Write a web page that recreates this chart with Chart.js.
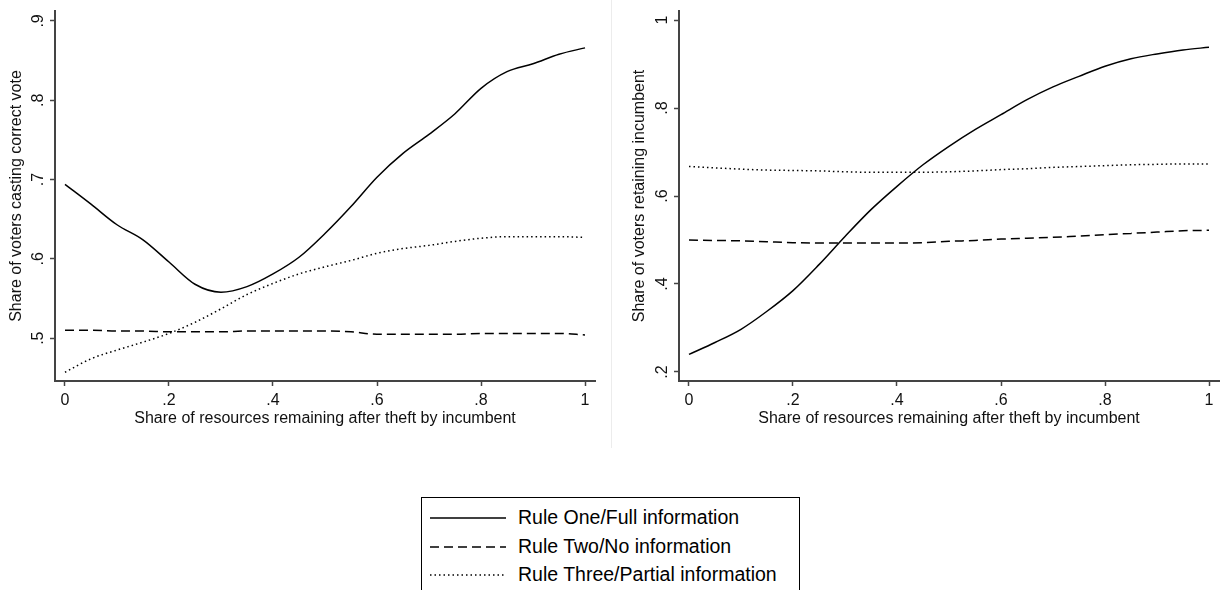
<!DOCTYPE html>
<html>
<head>
<meta charset="utf-8">
<script src="https://cdn.jsdelivr.net/npm/chart.js@4"></script>
<style>
  body { margin:0; background:#fff; width:1225px; height:590px; overflow:hidden; position:relative; font-family:"Liberation Sans", Arial, sans-serif; }
  #left { position:absolute; left:0; top:0; }
  #right { position:absolute; left:612px; top:0; }
  .sep { position:absolute; left:611px; top:0; width:1px; height:448px; background:#ececec; }
  .legend { position:absolute; left:421px; top:497px; width:377px; height:110px; border:1px solid #000; }
  .row { position:absolute; left:0; height:28px; font-size:19.5px; color:#000; }
  .row svg { position:absolute; left:8px; top:0; }
  .row span { position:absolute; left:96px; top:2px; white-space:nowrap; }
</style>
</head>
<body>
<canvas id="left" width="612" height="440"></canvas>
<div class="sep"></div>
<canvas id="right" width="613" height="440"></canvas>
<div class="legend" id="legend"></div>

<script>
// x grid of the fitted curves
var xs = [0, .05, .1, .15, .2, .25, .3, .35, .4, .45, .5, .55, .6, .65, .7, .75, .8, .85, .9, .95, 1];

// left panel: share of voters casting correct vote
var correctOne   = [.694, .669, .643, .624, .596, .568, .558, .565, .581, .602, .632, .666, .703, .733, .757, .783, .815, .836, .846, .858, .866];
var correctTwo   = [.510, .510, .509, .509, .508, .508, .508, .509, .509, .509, .509, .508, .505, .505, .505, .505, .506, .506, .506, .506, .504];
var correctThree = [.457, .474, .485, .495, .506, .520, .537, .555, .569, .581, .590, .598, .607, .613, .617, .622, .626, .628, .628, .628, .627];

// right panel: share of voters retaining incumbent
var retainOne   = [.240, .267, .297, .338, .385, .444, .508, .569, .622, .671, .713, .751, .785, .819, .848, .872, .895, .912, .923, .932, .938];
var retainTwo   = [.500, .499, .498, .496, .494, .493, .493, .493, .493, .494, .497, .499, .502, .504, .506, .509, .512, .515, .518, .521, .522];
var retainThree = [.667, .664, .661, .659, .658, .657, .655, .654, .654, .654, .655, .657, .660, .662, .665, .667, .669, .671, .672, .673, .673];

var seriesNames = ['Rule One/Full information', 'Rule Two/No information', 'Rule Three/Partial information'];
var dashes = [[], [9, 5], [1.5, 3]];

var xTicks = [0, .2, .4, .6, .8, 1];
var xTickLabels = ['0', '.2', '.4', '.6', '.8', '1'];
var leftYTicks = [.5, .6, .7, .8, .9];
var leftYLabels = ['.5', '.6', '.7', '.8', '.9'];
var rightYTicks = [.2, .4, .6, .8, 1];
var rightYLabels = ['.2', '.4', '.6', '.8', '1'];

var axisColor = '#444';
var textColor = '#111';
var font = '"Liberation Sans", Arial, sans-serif';

function pts(vals) {
  return xs.map(function(x, i) { return {x: x, y: vals[i]}; });
}

// y tick labels are drawn rotated, like the original
var yLabelPlugin = {
  id: 'ylabels',
  afterDraw: function(chart) {
    var o = chart.options.plugins.ylabels;
    var sc = chart.scales.y, ctx = chart.ctx;
    ctx.save();
    ctx.fillStyle = textColor;
    ctx.font = '16px ' + font;
    ctx.textAlign = 'center';
    ctx.textBaseline = 'middle';
    o.ticks.forEach(function(v, i) {
      var y = sc.getPixelForValue(v);
      ctx.save();
      ctx.translate(chart.chartArea.left - 16, y);
      ctx.rotate(-Math.PI / 2);
      ctx.fillText(o.labels[i], 0, 0);
      ctx.restore();
    });
    ctx.restore();
  }
};

function makeChart(id, sets, yMin, yMax, yTicks, yLabels, yTitle, yWidth, rightPad, titlePad) {
  var data = {
    datasets: sets.map(function(vals, i) {
      return {
        label: seriesNames[i],
        data: pts(vals),
        borderColor: '#000',
        borderWidth: 1.5,
        borderDash: dashes[i],
        pointRadius: 0,
        fill: false,
        cubicInterpolationMode: 'monotone'
      };
    })
  };
  return new Chart(document.getElementById(id), {
    type: 'line',
    data: data,
    options: {
      responsive: false,
      animation: false,
      layout: { padding: { left: 0, right: rightPad, top: 11, bottom: 0 } },
      plugins: {
        legend: { display: false },
        tooltip: { enabled: false },
        ylabels: { ticks: yTicks, labels: yLabels }
      },
      scales: {
        x: {
          type: 'linear',
          min: -0.0192, max: 1.0192,
          afterBuildTicks: function(s) { s.ticks = xTicks.map(function(v) { return {value: v}; }); },
          afterFit: function(s) { s.height = 59; },
          ticks: {
            autoSkip: false, maxRotation: 0, padding: 5,
            color: textColor, font: { family: font, size: 16 },
            callback: function(v) { return xTickLabels[xTicks.indexOf(v)]; }
          },
          grid: { drawOnChartArea: false, tickLength: 5, tickColor: axisColor, tickWidth: 1.5 },
          border: { color: axisColor, width: 2 },
          title: {
            display: true, text: 'Share of resources remaining after theft by incumbent',
            color: textColor, font: { family: font, size: 16 }, padding: { top: 0, bottom: 12 }
          }
        },
        y: {
          min: yMin, max: yMax,
          afterBuildTicks: function(s) { s.ticks = yTicks.map(function(v) { return {value: v}; }); },
          afterFit: function(s) { s.width = yWidth; },
          ticks: { display: false },
          grid: { drawOnChartArea: false, tickLength: 5, tickColor: axisColor, tickWidth: 1.5 },
          border: { color: axisColor, width: 2 },
          title: {
            display: true, text: yTitle,
            color: textColor, font: { family: font, size: 16 }, padding: { top: titlePad, bottom: 0 }
          }
        }
      }
    },
    plugins: [yLabelPlugin]
  });
}

makeChart('left', [correctOne, correctTwo, correctThree], 0.4460, 0.9125,
  leftYTicks, leftYLabels, 'Share of voters casting correct vote', 55, 17, 7);
makeChart('right', [retainOne, retainTwo, retainThree], 0.1795, 1.0205,
  rightYTicks, rightYLabels, 'Share of voters retaining incumbent', 67, 6, 18);

// legend box under both panels
var legend = document.getElementById('legend');
seriesNames.forEach(function(name, i) {
  var row = document.createElement('div');
  row.className = 'row';
  row.style.top = (6 + i * 28.5) + 'px';
  row.style.width = '377px';
  var dash = dashes[i].length ? ' stroke-dasharray="' + dashes[i].join(',') + '"' : '';
  row.innerHTML = '<svg width="76" height="28"><line x1="0" y1="14" x2="76" y2="14" stroke="#000" stroke-width="1.5"' + dash + '/></svg>' +
    '<span>' + name + '</span>';
  legend.appendChild(row);
});
</script>
</body>
</html>
